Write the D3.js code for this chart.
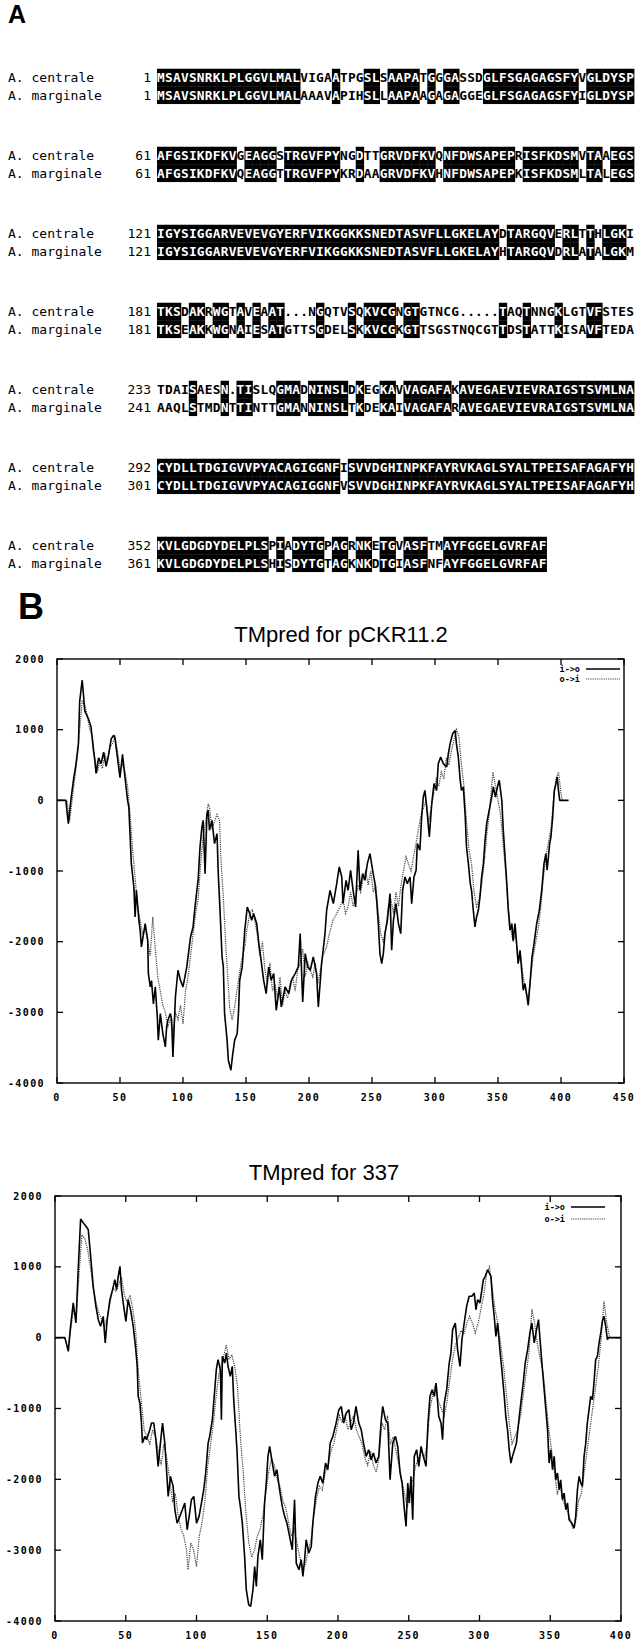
<!DOCTYPE html>
<html>
<head>
<meta charset="utf-8">
<script src="https://cdn.jsdelivr.net/npm/d3@7"></script>
<style>
body { margin: 0; background: #fff; }
svg { display: block; }
</style>
</head>
<body>
<svg id="fig" width="636" height="1639"></svg>
<script>
// panel A: alignment rows
var rowStarts = [[1, 1], [61, 61], [121, 121], [181, 181], [233, 241], [292, 301], [352, 361]];
var names = ["A. centrale", "A. marginale"];
var centrale = [
  "MSAVSNRKLPLGGVLMALVIGAATPGSLSAAPATGGGASSDGLFSGAGAGSFYVGLDYSP",
  "AFGSIKDFKVGEAGGSTRGVFPYNGDTTGRVDFKVQNFDWSAPEPRISFKDSMVTAAEGS",
  "IGYSIGGARVEVEVGYERFVIKGGKKSNEDTASVFLLGKELAYDTARGQVERLTTHLGKI",
  "TKSDAKRWGTAVEAAT...NGQTVSQKVCGNGTGTNCG.....TAQTNNGKLGTVFSTES",
  "TDAISAESN.TISLQGMADNINSLDKEGKAVVAGAFAKAVEGAEVIEVRAIGSTSVMLNA",
  "CYDLLTDGIGVVPYACAGIGGNFISVVDGHINPKFAYRVKAGLSYALTPEISAFAGAFYH",
  "KVLGDGDYDELPLSPIADYTGPAGRNKETGVASFTMAYFGGELGVRFAF"
];
var marginale = [
  "MSAVSNRKLPLGGVLMALAAAVAPIHSLLAAPAAGAGAGGEGLFSGAGAGSFYIGLDYSP",
  "AFGSIKDFKVQEAGGTTRGVFPYKRDAAGRVDFKVHNFDWSAPEPKISFKDSMLTALEGS",
  "IGYSIGGARVEVEVGYERFVIKGGKKSNEDTASVFLLGKELAYHTARGQVDRLATALGKM",
  "TKSEAKKWGNAIESATGTTSGDELSKKVCGKGTTSGSTNQCGTTDSTATTKISAVFTEDA",
  "AAQLSTMDNTTINTTGMANNINSLTKDEKAIVAGAFARAVEGAEVIEVRAIGSTSVMLNA",
  "CYDLLTDGIGVVPYACAGIGGNFVSVVDGHINPKFAYRVKAGLSYALTPEISAFAGAFYH",
  "KVLGDGDYDELPLSHISDYTGTAGKNKDTGIASFNFAYFGGELGVRFAF"
];

// panel B: TMpred profiles, [residue, score]
var xTicks1 = [0, 50, 100, 150, 200, 250, 300, 350, 400, 450];
var xTicks2 = [0, 50, 100, 150, 200, 250, 300, 350, 400];
var yTicks = [2000, 1000, 0, -1000, -2000, -3000, -4000];
var legendNames = ["i->o", "o->i"];

var io1 = [[0,0],[7,0],[9,-330],[11,0],[13,280],[15,500],[17,800],[18,1400],[20,1700],[21,1500],[22,1270],[25,1150],[27,1040],[29,700],[30,570],[31,380],[33,600],[35,520],[37,680],[39,480],[41,650],[43,870],[45,920],[46,880],[48,600],[49,460],[50,320],[52,650],[54,320],[56,0],[57,-94],[59,-896],[61,-1226],[62,-1650],[63,-1273],[65,-1700],[66,-1840],[67,-2075],[70,-1745],[72,-1980],[72.5,-2450],[74,-2640],[75,-2550],[76.5,-2880],[78,-2640],[79.6,-3065],[80.4,-3395],[82,-3018],[84,-3300],[86,-3490],[87,-3207],[88,-3112],[90,-3018],[91,-3112],[92,-3630],[94,-2780],[96,-2405],[98,-2547],[100,-2640],[103,-2358],[104,-2216],[106,-1933],[108,-1790],[109,-1600],[111,-1273],[112,-1130],[113.5,-660],[115,-377],[116,-283],[117.5,-1037],[119,-189],[120,-141],[121,-424],[123,-283],[125,-613],[127,-472],[128,-1037],[129.5,-1603],[131,-2216],[132,-2358],[133,-3018],[135,-3395],[136,-3678],[138,-3820],[139.5,-3584],[141,-3395],[143,-3300],[144,-3018],[145,-2547],[147,-2358],[149,-1840],[151,-1509],[153,-1603],[154.5,-1698],[156,-1603],[158.5,-1745],[160.5,-2075],[162,-2264],[164,-2547],[166,-2735],[168,-2358],[170,-2547],[172,-2452],[174,-2971],[176.5,-2641],[178,-2924],[181,-2641],[184,-2735],[186,-2547],[189,-2452],[191.5,-2358],[193,-1886],[195,-2853],[197,-2169],[199,-2358],[201,-2405],[203.4,-2216],[206,-2452],[207.4,-2924],[210,-2311],[212.7,-1886],[214,-1556],[216.7,-1273],[219.3,-1462],[222,-1179],[224,-943],[226,-1085],[227,-1462],[229.4,-1132],[231,-1273],[233,-990],[235,-1273],[237,-1509],[239,-707],[240.5,-1273],[242.6,-1037],[244.4,-1132],[246.3,-896],[248.4,-755],[250.5,-990],[252.4,-1179],[253.7,-1415],[255,-1745],[256.3,-2169],[257.7,-2311],[259,-2169],[260.3,-1886],[262.2,-1698],[264.3,-1320],[265.6,-2122],[267,-1698],[269,-1462],[271,-1745],[272.8,-1886],[274.3,-1273],[276.2,-1085],[278,-1179],[280.2,-1085],[281.5,-1462],[283.3,-1085],[285,-990],[286,-613],[288,-707],[289.4,-236],[290.7,47],[292,141],[293.4,-94],[295.5,-519],[297.4,-47],[299.2,236],[301.3,141],[302.6,519],[304.5,613],[306.6,519],[309.3,472],[310.6,660],[312,802],[314,943],[316,990],[317,802],[318.5,613],[320,283],[321,141],[322.5,189],[324,-236],[325,-660],[326.5,-896],[328,-1179],[329,-1273],[330.4,-1556],[331.7,-1792],[333,-1651],[334.4,-1556],[335.7,-1368],[337,-1085],[338.4,-896],[339.7,-566],[341,-330],[343,-141],[345,47],[346.3,189],[348,47],[349.5,189],[351,283],[353,0],[354.2,-424],[355.6,-802],[357,-1179],[358.2,-1556],[359.5,-1839],[361,-1745],[362,-1981],[363.5,-1745],[365,-2075],[366,-2311],[367.5,-2122],[369,-2452],[370,-2688],[371.4,-2594],[373,-2782],[374,-2900],[375.4,-2594],[377,-2216],[378.6,-2028],[380.7,-1745],[382.8,-1556],[384.7,-1273],[386.5,-896],[388,-755],[389,-990],[391,-613],[392,-519],[393.4,-236],[394.7,141],[396,236],[397,330],[398,141],[399,0],[406,0]];

var oi1 = [[0,0],[8,0],[10,-300],[12,0],[14,300],[16,600],[18,1000],[20,1400],[22,1350],[24,1200],[26,1000],[28,900],[30,600],[32,400],[34,550],[36,450],[38,650],[40,550],[42,750],[44,800],[46,900],[48,700],[50,450],[52,500],[54,400],[56,200],[58,-200],[60,-700],[62,-1100],[64,-1500],[66,-1700],[68,-1900],[70,-1800],[72,-2000],[74,-2200],[76,-1650],[78,-2100],[80,-2500],[82,-2700],[84,-2900],[86,-3000],[88,-3200],[90,-3100],[92,-3300],[94,-3000],[96,-3100],[98,-2900],[100,-3160],[102,-2700],[104,-2500],[106,-2200],[108,-1900],[110,-1600],[112,-1400],[114,-900],[116,-500],[118,-300],[120,-50],[121,-100],[123,-400],[125,-300],[127,-200],[129,-283],[130,-800],[132,-1368],[134,-2075],[137,-2924],[139,-3112],[141,-2924],[144,-2547],[146,-2311],[149,-2075],[151,-1800],[153,-1600],[155,-1550],[157,-1700],[159,-1900],[161,-2200],[163,-2000],[165,-2400],[167,-2600],[169,-2300],[171,-2700],[173,-2600],[175,-2800],[177,-2500],[179,-2900],[181,-2700],[183,-2800],[185,-2600],[187,-2500],[189,-2700],[191,-2400],[193,-2300],[195,-2100],[197,-2500],[199,-2300],[201,-2400],[203,-2500],[205,-2300],[207,-2600],[209,-2400],[211,-2200],[214,-2075],[216,-1900],[219,-1698],[222,-1600],[224.6,-1509],[227,-1400],[229,-1600],[231,-1509],[233,-1300],[235,-1500],[237,-1400],[239,-1200],[241,-1300],[243,-1100],[245,-1000],[247,-1200],[249,-1000],[251,-1300],[253,-1200],[255,-1600],[257,-1900],[259,-2000],[261,-1800],[263,-1500],[265,-1400],[267,-1600],[269,-1300],[271,-1500],[273,-1200],[275,-1000],[277,-800],[279,-900],[281,-1000],[283,-800],[285,-600],[287,-400],[289,-200],[291,-100],[293,0],[295,-300],[297,-100],[299,100],[301,300],[303,200],[305,400],[307,300],[309,600],[311,500],[313,700],[315,850],[317,1000],[319,900],[321,500],[323,200],[325,-300],[327,-700],[329,-900],[331,-1300],[333,-1500],[335,-1400],[337,-1200],[339,-900],[341,-500],[343,-200],[345,200],[346,400],[348,200],[350,0],[352,-200],[354,-600],[356,-1000],[358,-1500],[360,-1800],[362,-2000],[364,-1900],[366,-2300],[368,-2200],[370,-2500],[372,-2700],[374,-2800],[376,-2500],[378,-2200],[380,-2000],[382,-1800],[384,-1500],[386,-1100],[388,-800],[390,-600],[392,-400],[394,0],[396,300],[398,400],[400,100],[401,0]];

var io2 = [[0,0],[7,0],[9.4,-193],[11,160],[12.9,490],[14.8,207],[16.5,1007],[18.1,1676],[20,1620],[21.9,1572],[23.5,1525],[25.2,1149],[27,725],[28.9,443],[30.6,254],[32.2,160],[34.1,301],[35.5,-75],[36.9,254],[38.8,537],[40.7,678],[42.3,819],[43.5,678],[44.7,866],[45.9,1007],[47,678],[48.2,490],[50.1,231],[51.7,537],[53.4,395],[55.3,160],[57.1,-170],[58.1,-405],[58.8,-829],[60,-923],[61.1,-1205],[61.8,-1488],[63.5,-1393],[64.7,-1441],[67,-1299],[68.2,-1205],[69.8,-1205],[71.3,-1441],[72.9,-1817],[74.5,-1488],[76,-1205],[77.6,-1488],[78.8,-1864],[80,-2241],[81.6,-1958],[83.5,-2100],[84.7,-2429],[86.3,-2618],[88.2,-2523],[90,-2429],[91.7,-2335],[93.4,-2712],[94.8,-2523],[96.4,-2288],[98.1,-2241],[100,-2618],[101.8,-2523],[103.5,-2335],[105.1,-2147],[106.5,-1911],[108.2,-1488],[109.3,-1393],[111.2,-1158],[112.9,-734],[114,-452],[115.2,-311],[116.9,-452],[117.6,-1158],[118.3,-264],[119.9,-358],[121.1,-217],[122.3,-405],[123.9,-546],[125.3,-405],[126.3,-876],[127.7,-1299],[128.6,-1582],[130,-2241],[131,-2382],[132.4,-2618],[134,-3088],[135.2,-3559],[136.9,-3771],[138.3,-3795],[139.9,-3559],[141.1,-3230],[142.3,-3512],[143.4,-3088],[145.1,-2853],[146.5,-3135],[148.1,-2335],[149.3,-2053],[150.5,-1676],[151.7,-1535],[153.6,-1770],[155.2,-1958],[156.8,-1864],[158.7,-2147],[160.6,-2382],[162.3,-2523],[163.9,-2618],[165.8,-2806],[167.7,-2994],[169.3,-2288],[170.5,-3183],[172.4,-3277],[174,-3135],[175.2,-3371],[176.4,-3135],[177.5,-2853],[179.4,-3041],[181.1,-2947],[182.2,-2618],[184.1,-2241],[185.8,-2053],[187.4,-1958],[189.3,-2053],[191.2,-1770],[192.8,-1864],[194.5,-1488],[196.4,-1393],[198.7,-1205],[200.6,-1017],[202.3,-970],[204,-1205],[205.8,-1064],[207.7,-1017],[209.3,-1299],[210.9,-1205],[212.7,-970],[214.7,-1205],[216.4,-1299],[218,-1488],[219.9,-1676],[221.7,-1582],[223.4,-1723],[225,-1629],[226.9,-1770],[228.8,-1676],[230.4,-1205],[231.6,-970],[233.5,-1158],[235.2,-1205],[236.8,-2006],[238.7,-1488],[240.6,-1393],[242.2,-1535],[243.9,-1911],[245.3,-2053],[246.9,-2429],[248.1,-2665],[249.3,-2053],[250.4,-2335],[251.6,-1958],[252.8,-2571],[253.9,-1676],[255.6,-1582],[257.1,-1817],[258.7,-1535],[260.3,-1676],[262.2,-1817],[263.6,-1205],[265,-829],[266.5,-734],[268.1,-829],[269.3,-640],[271.2,-1111],[272.8,-1205],[273.9,-1441],[275.1,-923],[276.8,-734],[278.6,-358],[279.8,-217],[281,113],[282.9,207],[284.5,-170],[286.2,-405],[287.6,-28],[289.2,207],[290.9,443],[292.7,584],[294.6,584],[296.3,631],[297.5,395],[298.7,537],[300.3,490],[301.7,678],[302.7,819],[304.1,866],[305.7,960],[306.9,913],[308.1,866],[309.2,537],[310.4,301],[311.6,19],[312.8,207],[314.4,-170],[315.8,-452],[317.5,-829],[318.6,-1111],[319.8,-1299],[321,-1582],[322.2,-1770],[323.3,-1676],[324.7,-1582],[326.1,-1488],[327.6,-1205],[329.2,-923],[330.9,-640],[332.3,-358],[334,-170],[335.6,66],[337,207],[338.7,-75],[340.3,113],[341.7,254],[342.6,19],[344.1,-358],[345.7,-734],[346.9,-1017],[348.1,-1299],[349.2,-1770],[350.4,-1582],[351.6,-1864],[352.8,-1676],[353.9,-2006],[355.1,-1911],[356.3,-2147],[357.4,-2006],[358.6,-2288],[359.8,-2194],[361,-2429],[362.2,-2335],[363.3,-2571],[365.2,-2618],[366.9,-2688],[368,-2523],[369.2,-2147],[370.4,-1958],[371.6,-2053],[372.7,-2100],[373.9,-1676],[375.1,-1488],[376.2,-1205],[377.4,-1017],[378.6,-829],[379.8,-876],[380.9,-640],[382.1,-311],[383.3,-264],[384.5,-75],[385.7,66],[386.8,231],[388,301],[389.2,160],[390.4,-28],[391,0],[400,0]];

var oi2 = [[0,0],[7,0],[9,-150],[11,100],[13,400],[15,300],[17,900],[19,1450],[21,1400],[23,1250],[25,1000],[27,700],[29,500],[31,350],[33,250],[35,150],[37,300],[39,500],[41,700],[43,650],[45,750],[47,850],[49,600],[51,500],[53,600],[55,400],[57,100],[59,-500],[61,-900],[63,-1300],[65,-1400],[67,-1500],[69,-1300],[71,-1400],[73,-1600],[75,-1800],[77,-1500],[79,-1700],[81,-2000],[83,-2300],[85,-2200],[87,-2500],[89,-2700],[91,-2800],[93,-3000],[94,-3277],[96,-2900],[98,-3000],[100,-3230],[102,-2800],[104,-2600],[106,-2300],[108,-1800],[110,-1500],[112,-1200],[114,-800],[116,-500],[118,-350],[120,-200],[121,-100],[123,-300],[125,-250],[127,-400],[129,-700],[131,-1400],[133,-1900],[135,-2500],[137,-2900],[139,-3100],[141,-3000],[143,-2800],[145,-2700],[147,-2500],[149,-2200],[151,-1900],[153,-1700],[155,-1800],[157,-2000],[159,-2100],[161,-2300],[163,-2400],[165,-2600],[167,-2800],[169,-2700],[171,-2900],[173,-3100],[175,-3250],[177,-3200],[179,-3000],[181,-2850],[183,-2500],[185,-2250],[187,-2100],[189,-2150],[191,-1900],[193,-1800],[195,-1600],[197,-1500],[199,-1300],[201,-1100],[203,-1200],[205,-1100],[207,-1300],[209,-1200],[211,-1100],[213,-1300],[215,-1400],[217,-1500],[219,-1700],[221,-1800],[223,-1600],[225,-1800],[227,-1900],[229,-1700],[231,-1200],[233,-1300],[235,-1100],[237,-1500],[239,-1400],[241,-1600],[243,-1800],[245,-2000],[247,-2200],[249,-2400],[251,-2100],[253,-2000],[255,-1800],[257,-1700],[259,-1600],[261,-1700],[263,-1500],[265,-1000],[267,-800],[269,-650],[271,-900],[273,-1000],[275,-1100],[277,-900],[279,-600],[281,-300],[283,-100],[285,0],[287,100],[289,50],[291,200],[293,300],[295,207],[297,66],[299,200],[301,400],[303,600],[305,900],[307,1000],[309,700],[311,400],[313,200],[315,-100],[317,-400],[319,-800],[321,-1200],[323,-1500],[325,-1400],[327,-1300],[329,-1100],[331,-800],[333,-500],[335,-200],[337,400],[339,200],[341,-100],[343,-300],[345,-500],[347,-900],[349,-1300],[351,-1600],[353,-1900],[355,-2200],[357,-2100],[359,-2300],[361,-2400],[363,-2500],[366,-2700],[368,-2600],[370,-2300],[372,-2200],[374,-1900],[376,-1600],[378,-1300],[380,-1000],[382,-700],[384,-400],[386,0],[388,513],[390,200],[392,0],[397,0]];

var svg = d3.select("#fig");
svg.append("rect").attr("width", 636).attr("height", 1639).attr("fill", "#fff");

var mono = "'DejaVu Sans Mono', monospace";
var sans = "'Liberation Sans', Arial, sans-serif";

// ---- panel A ----
svg.append("text").attr("x", 8).attr("y", 23)
  .attr("font-family", sans).attr("font-weight", "bold").attr("font-size", 25)
  .text("A");

var seqX = d3.scaleLinear().domain([0, 60]).range([157, 634]);
var blockY = d3.scaleLinear().domain([0, 1]).range([77.5, 155.5]);
var pitch = seqX(1) - seqX(0);
var lineGap = 17.5;

rowStarts.forEach(function (starts, k) {
  var seqs = [centrale[k], marginale[k]];
  seqs.forEach(function (seq, s) {
    var yc = blockY(k) + s * lineGap;
    var other = seqs[1 - s];
    var g = svg.append("g");

    g.append("text").attr("x", 8).attr("y", yc + 4.5)
      .attr("font-family", mono).attr("font-size", 13)
      .text(names[s]);
    g.append("text").attr("x", 151).attr("y", yc + 4.5)
      .attr("font-family", mono).attr("font-size", 13).attr("text-anchor", "end")
      .text(starts[s]);

    var chars = seq.split("").map(function (c, i) {
      return { c: c, i: i, same: c != "." && c == other[i] };
    });

    g.selectAll("rect").data(chars.filter(function (d) { return d.same; }))
      .enter().append("rect")
      .attr("x", function (d) { return seqX(d.i); })
      .attr("y", yc - lineGap / 2)
      .attr("width", pitch + 0.4)
      .attr("height", lineGap + 0.3)
      .attr("fill", "#000");

    g.selectAll("text.res").data(chars).enter().append("text")
      .attr("class", "res")
      .attr("x", function (d) { return seqX(d.i) + pitch / 2; })
      .attr("y", yc + 4.6)
      .attr("text-anchor", "middle")
      .attr("font-family", mono).attr("font-weight", "bold").attr("font-size", 12.8)
      .attr("fill", function (d) { return d.same ? "#fff" : "#000"; })
      .text(function (d) { return d.c; });
  });
});

// ---- panel B ----
svg.append("text").attr("x", 18).attr("y", 619)
  .attr("font-family", sans).attr("font-weight", "bold").attr("font-size", 36)
  .text("B");

function DrawChart(opt) {
  var x = d3.scaleLinear().domain([0, opt.xmax]).range([opt.left, opt.right]);
  var y = d3.scaleLinear().domain([-4000, 2000]).range([opt.bottom, opt.top]);
  var g = svg.append("g");

  g.append("text").attr("x", opt.titleX).attr("y", opt.titleY)
    .attr("text-anchor", "middle").attr("font-family", sans).attr("font-size", 22)
    .text(opt.title);

  var clipId = "clip" + opt.id;
  g.append("clipPath").attr("id", clipId).append("rect")
    .attr("x", opt.left).attr("y", opt.top)
    .attr("width", opt.right - opt.left).attr("height", opt.bottom - opt.top);

  var line = d3.line()
    .x(function (d) { return x(d[0]); })
    .y(function (d) { return y(d[1]); });

  g.append("path").datum(opt.oi)
    .attr("d", line).attr("clip-path", "url(#" + clipId + ")")
    .attr("fill", "none").attr("stroke", "#444").attr("stroke-width", 1.2)
    .attr("stroke-dasharray", "1.2,1");
  g.append("path").datum(opt.io)
    .attr("d", line).attr("clip-path", "url(#" + clipId + ")")
    .attr("fill", "none").attr("stroke", "#000").attr("stroke-width", 1.6)
    .attr("stroke-linejoin", "bevel");

  // frame
  g.append("rect").attr("x", opt.left).attr("y", opt.top)
    .attr("width", opt.right - opt.left).attr("height", opt.bottom - opt.top)
    .attr("fill", "none").attr("stroke", "#000").attr("stroke-width", 1.4);

  // gnuplot style inward ticks on all four sides
  var tk = 6;
  opt.xTicks.forEach(function (t) {
    g.append("line").attr("x1", x(t)).attr("x2", x(t))
      .attr("y1", opt.bottom).attr("y2", opt.bottom - tk)
      .attr("stroke", "#000").attr("stroke-width", 1.3);
    g.append("line").attr("x1", x(t)).attr("x2", x(t))
      .attr("y1", opt.top).attr("y2", opt.top + tk)
      .attr("stroke", "#000").attr("stroke-width", 1.3);
    g.append("text").attr("x", x(t)).attr("y", opt.bottom + 18)
      .attr("text-anchor", "middle").attr("font-family", mono)
      .attr("font-weight", "bold").attr("font-size", 10).attr("letter-spacing", 1.4)
      .text(t);
  });
  yTicks.forEach(function (t) {
    g.append("line").attr("x1", opt.left).attr("x2", opt.left + tk)
      .attr("y1", y(t)).attr("y2", y(t))
      .attr("stroke", "#000").attr("stroke-width", 1.3);
    g.append("line").attr("x1", opt.right).attr("x2", opt.right - tk)
      .attr("y1", y(t)).attr("y2", y(t))
      .attr("stroke", "#000").attr("stroke-width", 1.3);
    g.append("text").attr("x", opt.left - 12).attr("y", y(t) + 3.5)
      .attr("text-anchor", "end").attr("font-family", mono)
      .attr("font-weight", "bold").attr("font-size", 10).attr("letter-spacing", 1.4)
      .text(t);
  });

  // legend
  legendNames.forEach(function (name, i) {
    var ly = opt.legendY + i * opt.legendGap;
    g.append("text").attr("x", opt.legendX).attr("y", ly + 3)
      .attr("text-anchor", "end").attr("font-family", mono)
      .attr("font-weight", "bold").attr("font-size", 8.5)
      .text(name);
    g.append("line").attr("x1", opt.legendX + 6).attr("x2", opt.legendX + 40)
      .attr("y1", ly).attr("y2", ly)
      .attr("stroke", i == 0 ? "#000" : "#444")
      .attr("stroke-width", i == 0 ? 1.5 : 1.2)
      .attr("stroke-dasharray", i == 0 ? null : "1.2,1");
  });
}

DrawChart({
  id: 1, title: "TMpred for pCKR11.2", titleX: 341, titleY: 642,
  left: 57, right: 624, top: 659, bottom: 1083, xmax: 450, xTicks: xTicks1,
  io: io1, oi: oi1, legendX: 580, legendY: 669, legendGap: 10
});

DrawChart({
  id: 2, title: "TMpred for 337", titleX: 324, titleY: 1180,
  left: 55, right: 621, top: 1196, bottom: 1621, xmax: 400, xTicks: xTicks2,
  io: io2, oi: oi2, legendX: 565, legendY: 1207, legendGap: 12
});
</script>
</body>
</html>
